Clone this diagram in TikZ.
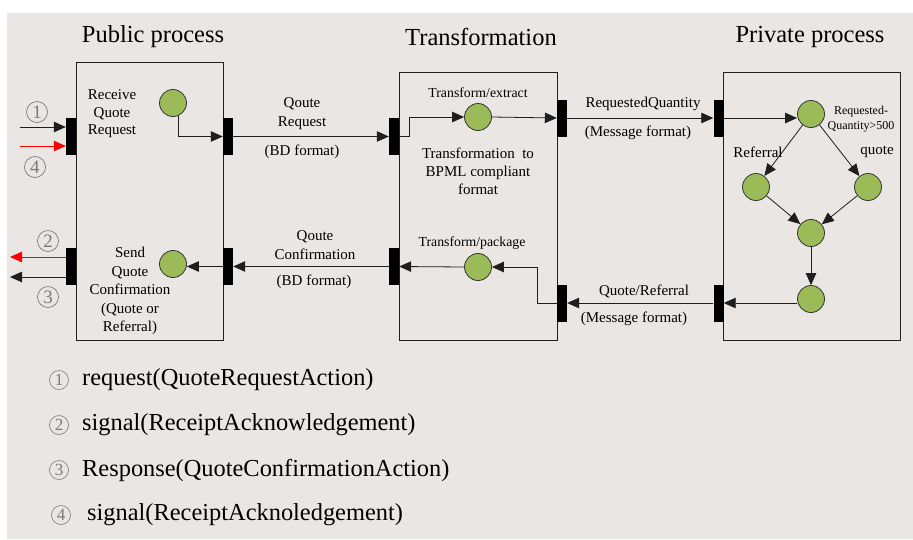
\documentclass[tikz,border=0pt]{standalone}
\usepackage{fontspec}
\setmainfont{Liberation Serif}
\usetikzlibrary{arrows.meta}
\definecolor{bg}{HTML}{EAE6E3}
\definecolor{grn}{HTML}{9BBB59}
\definecolor{numgray}{HTML}{7A7A7A}
\definecolor{ln}{HTML}{1E1E1E}
\begin{document}
\begin{tikzpicture}[x=1pt,y=-1pt,
  procbox/.style={draw=ln, line width=0.9pt, inner sep=0pt},
  portbar/.style={fill=black, inner sep=0pt, minimum width=10pt, minimum height=37pt},
  place/.style={circle, draw=black!80, fill=grn, line width=0.8pt, minimum size=27pt, inner sep=0pt},
  arr/.style={draw=ln, line width=0.8pt, -{Triangle[length=12pt,width=10.5pt]}},
  redarr/.style={draw=red, line width=0.8pt, -{Triangle[length=12pt,width=10.5pt]}},
  titletext/.style={font=\fontsize{24.5}{28}\selectfont, inner sep=0pt},
  lbl/.style={font=\fontsize{15}{18.5}\selectfont, align=center, inner sep=0pt},
  smalllbl/.style={font=\fontsize{13.8}{16}\selectfont, align=center, inner sep=0pt},
  tinylbl/.style={font=\fontsize{12}{15}\selectfont, align=center, inner sep=0pt},
  numc/.style={circle, draw=numgray, text=numgray, line width=0.7pt, minimum size=21pt, inner sep=0pt, font=\fontsize{19}{19}\selectfont},
  legnum/.style={circle, draw=numgray, text=numgray, line width=0.6pt, minimum size=19pt, inner sep=0pt, font=\fontsize{17}{17}\selectfont},
  legtext/.style={font=\fontsize{24.4}{28}\selectfont, anchor=west, inner sep=0pt}
]
\useasboundingbox (0,0) rectangle (913,539);
\fill[bg] (7,13) rectangle (913,539);

% titles
\node[titletext] (tpub) at (153,37) {Public process};
\node[titletext] (ttr) at (481,37) {Transformation};
\node[titletext] (tpriv) at (810,37) {Private process};

% process boxes
\node[procbox, minimum width=147pt, minimum height=278pt] (pub) at (149.5,201) {};
\node[procbox, minimum width=158pt, minimum height=268pt] (tra) at (478,206) {};
\node[procbox, minimum width=177pt, minimum height=268pt] (pri) at (811.5,206) {};

% port bars
\node[portbar] (pL1) at (71,136.5) {};
\node[portbar] (pL2) at (71,266.5) {};
\node[portbar] (pR1) at (228,136.5) {};
\node[portbar] (pR2) at (228,266.5) {};
\node[portbar] (tL1) at (394,136.5) {};
\node[portbar] (tL2) at (394,266.5) {};
\node[portbar] (tR1) at (562,118) {};
\node[portbar] (tR2) at (562,303) {};
\node[portbar] (vL1) at (718.5,118) {};
\node[portbar] (vL2) at (718.5,303) {};

% places
\node[place] (c1) at (173,103) {};
\node[place] (c2) at (173,264) {};
\node[place] (t1) at (478,117) {};
\node[place] (t2) at (478,267) {};
\node[place] (v1) at (811,114) {};
\node[place] (v2) at (756,187) {};
\node[place] (v3) at (868,187) {};
\node[place] (v4) at (811,233) {};
\node[place] (v5) at (811,299) {};

% external connectors
\coordinate (i1) at (20,127);
\coordinate (i4) at (20,146);
\coordinate (o2) at (10,257);
\coordinate (o3) at (10,277);
\draw[arr] (i1) -- (i1 -| pL1.west);
\draw[redarr] (i4) -- (i4 -| pL1.west);
\draw[redarr] (o2 -| pL2.west) -- (o2);
\draw[arr] (o3 -| pL2.west) -- (o3);
\node[numc] (n1) at (37,112) {1};
\node[numc] (n4) at (35,167) {4};
\node[numc] (n2) at (48,241) {2};
\node[numc] (n3) at (48,297) {3};

% top flow
\draw[arr] (c1.-68) |- (pR1.west);
\draw[arr] (pR1.east) -- (tL1.west);
\draw[arr] (tL1.east) -- ++(10,0) |- (t1.west);
\draw[arr] (t1.east) -- (tR1.west);
\draw[arr] (tR1.east) -- (vL1.west);
\draw[arr] (vL1.east) -- (vL1.east -| v1.west);
\draw[arr] (v1) -- (v2);
\draw[arr] (v1) -- (v3);
\draw[arr] (v2) -- (v4);
\draw[arr] (v3) -- (v4);
\draw[arr] (v4) -- (v5);
% bottom flow
\draw[arr] (vL2.east -| v5.west) -- (vL2.east);
\draw[arr] (vL2.west) -- (tR2.east);
\draw[arr] (tR2.west) -- ++(-19,0) |- (t2.east);
\draw[arr] (t2.west) -- (tL2.east);
\draw[arr] (tL2.west) -- (pR2.east);
\draw[arr] (pR2.west) -- (pR2.west -| c2.east);

% labels
\node[lbl, font=\fontsize{15}{17.5}\selectfont] (lrecv) at (112,114) {Receive\\Quote\\Request};
\node[lbl] (lsend) at (130,291) {Send\\Quote\\Confirmation\\(Quote or\\Referral)};
\node[lbl, font=\fontsize{15}{19}\selectfont] (lqreq) at (302,113.5) {Qoute\\Request};
\node[lbl] (lbd1) at (302,152) {(BD format)};
\node[lbl, font=\fontsize{15}{19}\selectfont] (lqconf) at (315,245.5) {Qoute\\Confirmation};
\node[lbl] (lbd2) at (314,282) {(BD format)};
\node[smalllbl] (lext) at (478,93) {Transform/extract};
\node[lbl, font=\fontsize{15}{18}\selectfont] (lbpml) at (478,171) {Transformation\ \ to\\BPML compliant\\format};
\node[smalllbl] (lpack) at (472,243) {Transform/package};
\node[lbl] (lrq) at (643,104) {RequestedQuantity};
\node[lbl] (lmf1) at (638,133) {(Message format)};
\node[lbl] (lqr) at (644,291) {Quote/Referral};
\node[lbl] (lmf2) at (634,319) {(Message format)};
\node[tinylbl] (lcond) at (861,119) {Requested-\\Quantity>500};
\node[lbl] (lref) at (758,152) {Referral};
\node[lbl] (lquote) at (877,152) {quote};

% legend
\node[legnum] (g1) at (59,380) {1};
\node[legtext] (g1t) at (82,380) {request(QuoteRequestAction)};
\node[legnum] (g2) at (59,425) {2};
\node[legtext] (g2t) at (82,425) {signal(ReceiptAcknowledgement)};
\node[legnum] (g3) at (59,470) {3};
\node[legtext] (g3t) at (82,470) {Response(QuoteConfirmationAction)};
\node[legnum] (g4) at (61,515) {4};
\node[legtext] (g4t) at (87,515) {signal(ReceiptAcknoledgement)};
\end{tikzpicture}
\end{document}
